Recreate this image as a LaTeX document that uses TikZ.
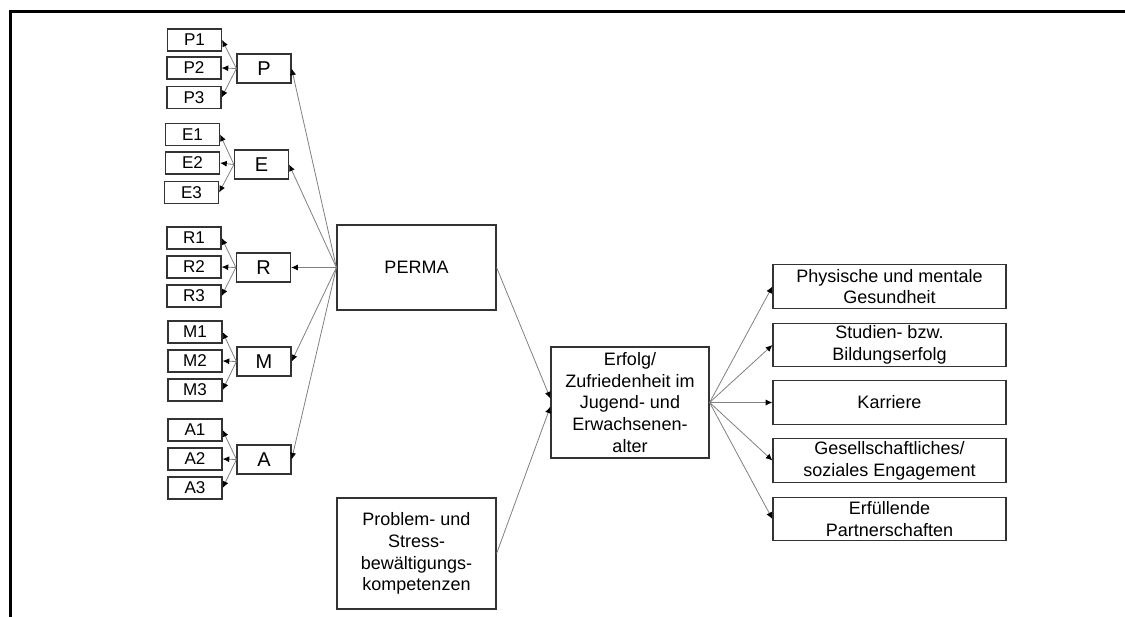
\documentclass[tikz,border=0pt]{standalone}
\usepackage{fontspec}
\setmainfont{Liberation Sans}
\usetikzlibrary{arrows.meta}

\begin{document}
\begin{tikzpicture}[x=0.75pt,y=-0.75pt]

        \useasboundingbox (0,0) rectangle (1125,617);
        \draw[line width=2.4pt] (1125,11.5) -- (10.5,11.5) -- (10.5,617);

        % items
        \begin{scope}[every node/.style={draw=black!80,line width=0.9pt,inner sep=0pt,
            minimum width=40.5pt,minimum height=16.5pt,font=\fontsize{12.8}{14}\selectfont}]
          \node (P1) at (194.5,40)  {P1};
          \node (P2) at (194,68)    {P2};
          \node (P3) at (194,97.5)  {P3};
          \node (E1) at (192.5,134.5) {E1};
          \node (E2) at (192.5,163) {E2};
          \node (E3) at (191.5,192.5) {E3};
          \node (R1) at (194,238)   {R1};
          \node (R2) at (194,267)   {R2};
          \node (R3) at (194,296)   {R3};
          \node (M1) at (195,332)   {M1};
          \node (M2) at (195,361)   {M2};
          \node (M3) at (195,390)   {M3};
          \node (A1) at (195,430)   {A1};
          \node (A2) at (195,459)   {A2};
          \node (A3) at (195,488)   {A3};
        \end{scope}

        % dimensions
        \begin{scope}[every node/.style={draw=black!80,line width=0.9pt,inner sep=0pt,
            minimum width=40.5pt,minimum height=21.75pt,font=\fontsize{15}{16}\selectfont}]
          \node (P) at (264,68.5)   {P};
          \node (E) at (261.5,164.5) {E};
          \node (R) at (263.5,267.5) {R};
          \node (M) at (264,361.5)  {M};
          \node (A) at (264,459.5)  {A};
        \end{scope}

        \begin{scope}[every node/.style={draw=black!80,line width=0.9pt,inner sep=0pt,
            align=center,font=\fontsize{13.5}{16.3}\selectfont}]
          \node[minimum width=119.25pt,minimum height=63.75pt] (perma) at (416.5,267.5) {PERMA};
          \node[minimum width=119.25pt,minimum height=83.25pt] (problem) at (416.5,553.5)
            {Problem- und\\Stress-\\bewältigungs-\\kompetenzen};
          \node[minimum width=118.5pt,minimum height=83.25pt] (erfolg) at (630,402.5)
            {Erfolg/\\Zufriedenheit im\\Jugend- und\\Erwachsenen-\\alter};
        \end{scope}

        % outcomes
        \begin{scope}[every node/.style={draw=black!80,line width=0.9pt,inner sep=0pt,
            minimum width=174.75pt,minimum height=32.6pt,align=center,
            font=\fontsize{13.5}{16.3}\selectfont}]
          \node (gesund)   at (889.5,286.5) {Physische und mentale\\Gesundheit};
          \node (bildung)  at (889.5,345)   {Studien- bzw.\\Bildungserfolg};
          \node (karriere) at (889.5,402.5) {Karriere};
          \node (engage)   at (889.5,460.5) {Gesellschaftliches/\\soziales Engagement};
          \node (partner)  at (889.5,519)   {Erfüllende\\Partnerschaften};
        \end{scope}

        \begin{scope}[every edge/.style={draw=black!50,line width=0.6pt,
            -{Latex[length=5pt,width=4.5pt,color=black]}}]
          \path (P.west) edge (P1.east);
          \path (P.west) edge (P2.east);
          \path (P.west) edge (P3.east);
          \path (E.west) edge (E1.east);
          \path (E.west) edge (E2.east);
          \path (E.west) edge (E3.east);
          \path (R.west) edge (R1.east);
          \path (R.west) edge (R2.east);
          \path (R.west) edge (R3.east);
          \path (M.west) edge (M1.east);
          \path (M.west) edge (M2.east);
          \path (M.west) edge (M3.east);
          \path (A.west) edge (A1.east);
          \path (A.west) edge (A2.east);
          \path (A.west) edge (A3.east);

          \path (perma.west) edge (P.east);
          \path (perma.west) edge (E.east);
          \path (perma.west) edge (R.east);
          \path (perma.west) edge (M.east);
          \path (perma.west) edge (A.east);

          \path (perma.east)   edge ([yshift=3pt]erfolg.west);
          \path (problem.east) edge ([yshift=-3pt]erfolg.west);

          \path (erfolg.east) edge (gesund.west);
          \path (erfolg.east) edge (bildung.west);
          \path (erfolg.east) edge (karriere.west);
          \path (erfolg.east) edge (engage.west);
          \path (erfolg.east) edge (partner.west);
        \end{scope}

      \end{tikzpicture}
\end{document}
